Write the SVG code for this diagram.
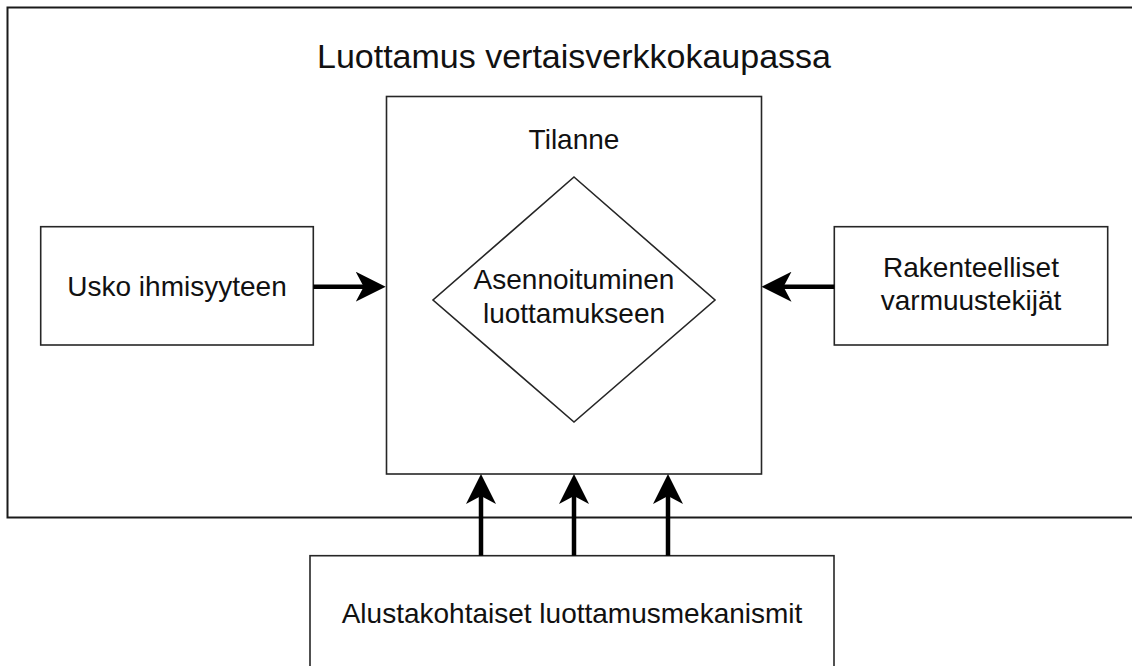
<svg xmlns="http://www.w3.org/2000/svg" width="1132" height="666" viewBox="0 0 1132 666">
  <style>
    .box { fill: #ffffff; stroke: #262626; stroke-width: 1.6; }
    .outer { fill: #ffffff; stroke: #1a1a1a; stroke-width: 2; }
    .lbl { font-family: "Liberation Sans", Arial, Helvetica, sans-serif; font-size: 28px; fill: #111111; text-anchor: middle; }
    .title { font-size: 34px; }
    .conn { stroke: #000000; stroke-width: 4.5; fill: none; }
  </style>
  <defs>
    <marker id="arr" markerUnits="userSpaceOnUse" viewBox="0 0 30 30" markerWidth="30" markerHeight="30" refX="20" refY="15" orient="auto">
      <path d="M0,0 L30,15 L0,30 L8,15 Z" fill="#000000"/>
    </marker>
  </defs>

  <g id="outer">
    <rect class="outer" x="7.5" y="7.5" width="1140" height="510"/>
    <text class="lbl title" x="574" y="68">Luottamus vertaisverkkokaupassa</text>
  </g>

  <g id="tilanne">
    <rect class="box" x="386.5" y="96.5" width="375" height="377.5"/>
    <text class="lbl" x="574" y="149">Tilanne</text>
  </g>

  <g id="asennoituminen">
    <polygon class="box" points="574,177 715,300 574,422 433,300"/>
    <text class="lbl" x="574" y="289">Asennoituminen</text>
    <text class="lbl" x="574" y="323">luottamukseen</text>
  </g>

  <g id="usko">
    <rect class="box" x="40.7" y="226.7" width="272.6" height="118.3"/>
    <text class="lbl" x="177" y="296">Usko ihmisyyteen</text>
  </g>

  <g id="rakenteelliset">
    <rect class="box" x="834.3" y="226.7" width="273.4" height="118.3"/>
    <text class="lbl" x="971" y="277">Rakenteelliset</text>
    <text class="lbl" x="971" y="310">varmuustekijät</text>
  </g>

  <g id="alusta">
    <rect class="box" x="310" y="555.7" width="524" height="130"/>
    <text class="lbl" x="572" y="623">Alustakohtaiset luottamusmekanismit</text>
  </g>

  <g id="connectors">
    <line class="conn" x1="313.3" y1="286.7" x2="375.7" y2="286.7" marker-end="url(#arr)"/>
    <line class="conn" x1="834.3" y1="286.7" x2="771.5" y2="286.7" marker-end="url(#arr)"/>
    <line class="conn" x1="481" y1="555.7" x2="481" y2="484" marker-end="url(#arr)"/>
    <line class="conn" x1="574" y1="555.7" x2="574" y2="484" marker-end="url(#arr)"/>
    <line class="conn" x1="668" y1="555.7" x2="668" y2="484" marker-end="url(#arr)"/>
  </g>
</svg>
